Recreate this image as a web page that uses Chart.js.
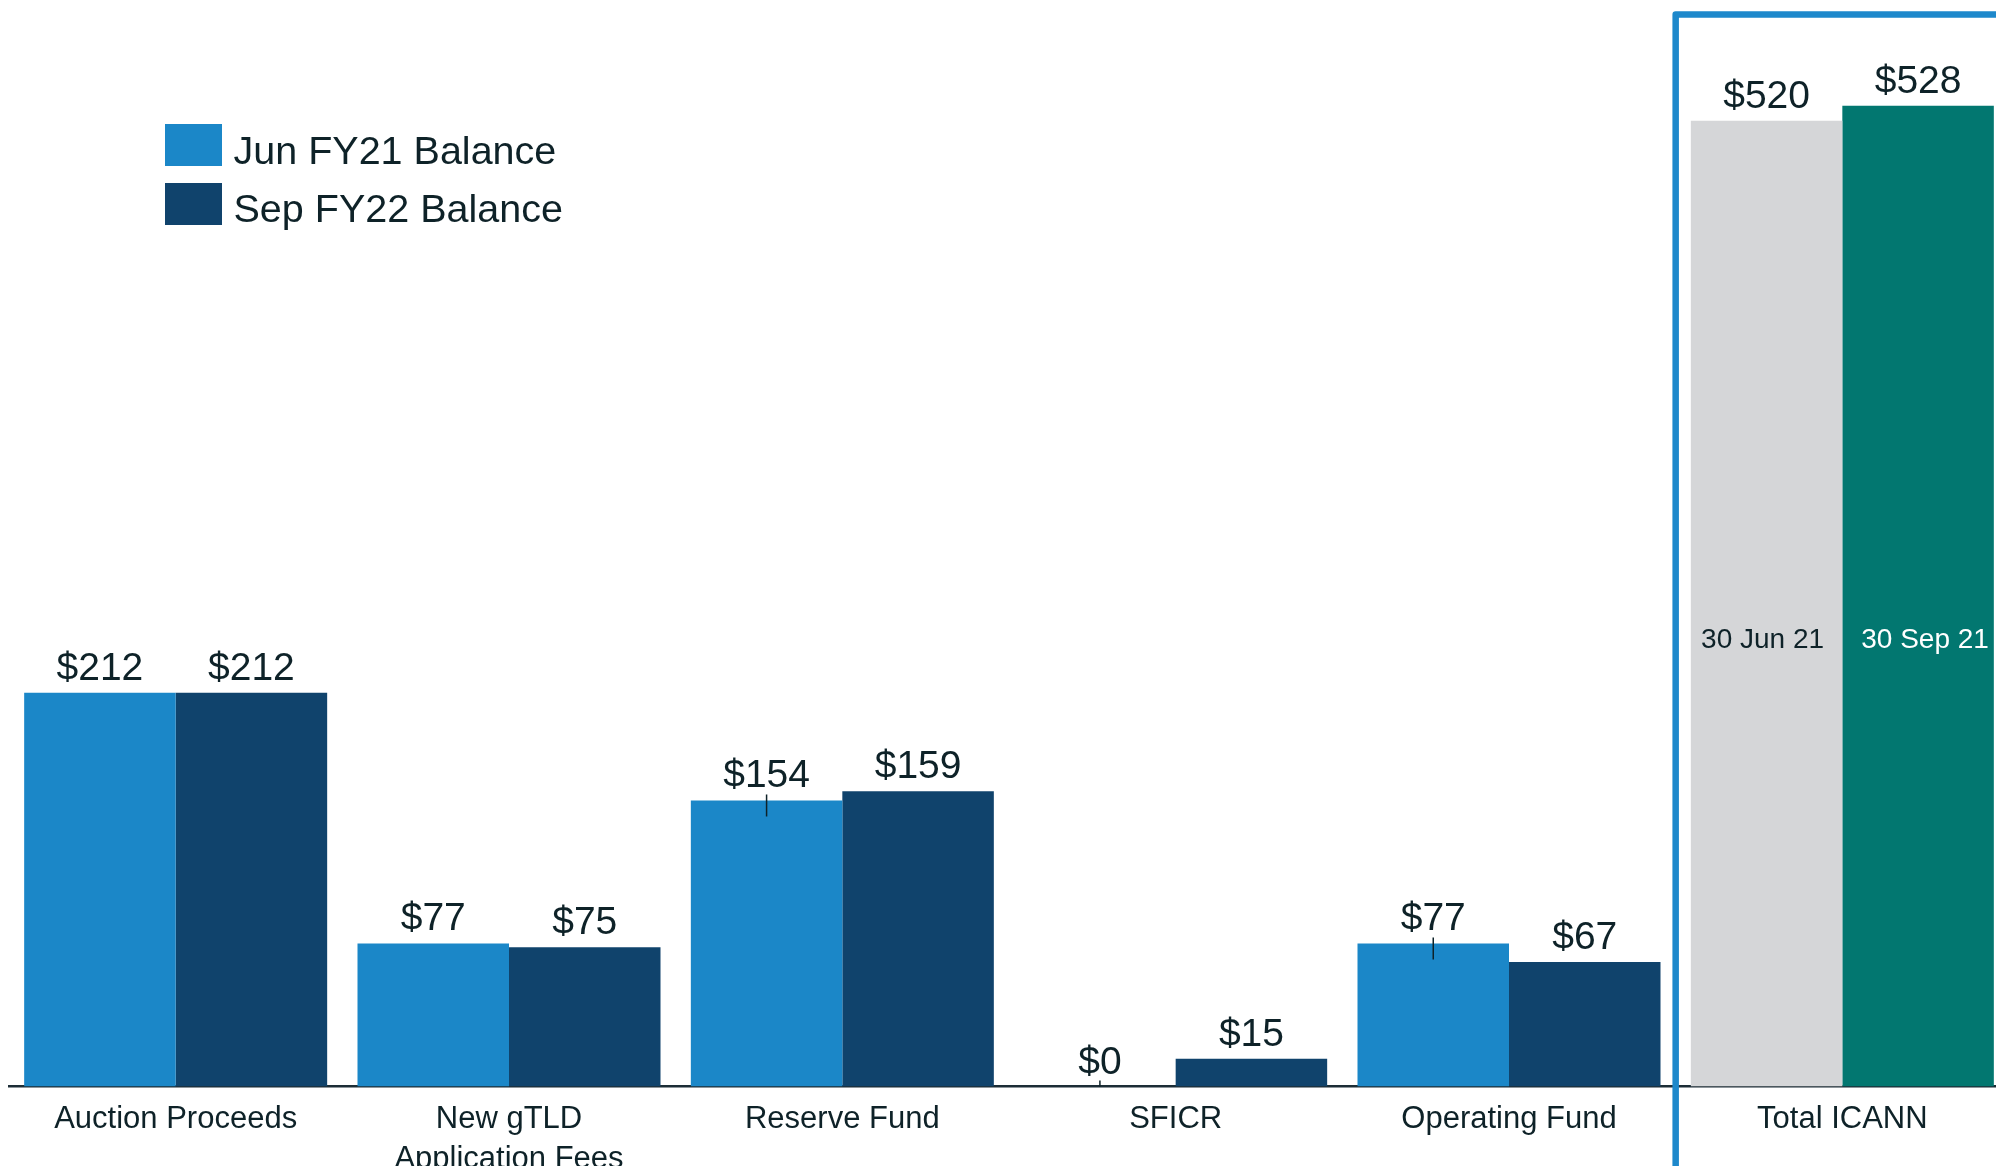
<!DOCTYPE html>
<html>
<head>
<meta charset="utf-8">
<script src="https://cdn.jsdelivr.net/npm/chart.js@4.4.1/dist/chart.umd.min.js"></script>
<style>
  html, body { margin: 0; padding: 0; background: #ffffff; overflow: hidden; }
  #wrap { position: relative; width: 2010px; height: 1166px; }
  canvas { display: block; }
</style>
</head>
<body>
<div id="wrap"><canvas id="c" width="2010" height="1166"></canvas></div>
<script>
// ---- data ----
const categories = ['Auction Proceeds', ['New gTLD', 'Application Fees'], 'Reserve Fund', 'SFICR', 'Operating Fund', 'Total ICANN'];
const seriesLabels = ['Jun FY21 Balance', 'Sep FY22 Balance'];
const junValues = [212, 77, 154, 0, 77, 520];
const sepValues = [212, 75, 159, 15, 67, 528];
const totalDateLabels = ['30 Jun 21', '30 Sep 21'];
const leaderIndexes = [2, 3, 4]; // Jun bars whose value labels have a small leader tick

// ---- style ----
const FONT = '"Liberation Sans", Arial, sans-serif';
const TEXT = '#0e2228';
const JUN = '#1b87c8';
const SEP = '#10436c';
const TOTAL_JUN = '#d5d6d8';
const TOTAL_SEP = '#027770';
const BOX = '#1d88cb';

const lastIdx = categories.length - 1;
const junColors = junValues.map((v, i) => i === lastIdx ? TOTAL_JUN : JUN);
const sepColors = sepValues.map((v, i) => i === lastIdx ? TOTAL_SEP : SEP);

const decorPlugin = {
  id: 'decor',
  afterDatasetsDraw(chart) {
    const ctx = chart.ctx;
    ctx.save();
    // value labels
    ctx.font = '39px ' + FONT;
    ctx.fillStyle = TEXT;
    ctx.textAlign = 'center';
    ctx.textBaseline = 'alphabetic';
    chart.data.datasets.forEach((ds, di) => {
      const meta = chart.getDatasetMeta(di);
      meta.data.forEach((el, i) => {
        ctx.fillText('$' + ds.data[i], el.x, el.y - 13);
      });
    });
    // leader ticks
    const m0 = chart.getDatasetMeta(0);
    ctx.strokeStyle = TEXT;
    ctx.lineWidth = 1.5;
    leaderIndexes.forEach(i => {
      const el = m0.data[i];
      const below = chart.data.datasets[0].data[i] > 0 ? 16 : 0;
      ctx.beginPath();
      ctx.moveTo(el.x, el.y - 6);
      ctx.lineTo(el.x, el.y + below);
      ctx.stroke();
    });
    // date labels inside total bars
    ctx.font = '28px ' + FONT;
    ctx.textBaseline = 'middle';
    const offs = [-4, 7];
    const cols = [TEXT, '#ffffff'];
    chart.data.datasets.forEach((ds, di) => {
      const el = chart.getDatasetMeta(di).data[lastIdx];
      ctx.fillStyle = cols[di];
      ctx.fillText(totalDateLabels[di], el.x + offs[di], 640);
    });
    ctx.restore();
  },
  afterDraw(chart) {
    const ctx = chart.ctx;
    const xs = chart.scales.x;
    ctx.save();
    // highlight box around the Total category
    const bx = (xs.getPixelForValue(lastIdx - 1) + xs.getPixelForValue(lastIdx)) / 2;
    ctx.strokeStyle = BOX;
    ctx.lineWidth = 6.5;
    ctx.lineJoin = 'round';
    ctx.beginPath();
    ctx.moveTo(bx, chart.height + 10);
    ctx.lineTo(bx, 14.5);
    ctx.lineTo(chart.width + 20, 14.5);
    ctx.stroke();
    // legend
    ctx.font = '39.5px ' + FONT;
    ctx.textAlign = 'left';
    ctx.textBaseline = 'alphabetic';
    const legendCols = [JUN, SEP];
    const boxTops = [124, 183];
    const baselines = [163.5, 221.5];
    seriesLabels.forEach((lab, i) => {
      ctx.fillStyle = legendCols[i];
      ctx.fillRect(165, boxTops[i], 57, 42);
      ctx.fillStyle = TEXT;
      ctx.fillText(lab, 233.5, baselines[i]);
    });
    ctx.restore();
  }
};

new Chart(document.getElementById('c'), {
  type: 'bar',
  data: {
    labels: categories,
    datasets: [
      { label: seriesLabels[0], data: junValues, backgroundColor: junColors, borderWidth: 0 },
      { label: seriesLabels[1], data: sepValues, backgroundColor: sepColors, borderWidth: 0 }
    ]
  },
  options: {
    responsive: false,
    animation: false,
    events: [],
    layout: { padding: { left: 9, right: 1, top: 0, bottom: 0 } },
    datasets: { bar: { barPercentage: 1.0, categoryPercentage: 0.909 } },
    plugins: { legend: { display: false }, tooltip: { enabled: false } },
    scales: {
      y: { display: false, min: 0, max: 585 },
      x: {
        grid: { display: false, drawTicks: false },
        border: { display: true, color: '#1c2d36', width: 2.5 },
        ticks: {
          color: TEXT,
          padding: 12.5,
          maxRotation: 0,
          autoSkip: false,
          font: { family: FONT, size: 31, lineHeight: 1.3 }
        },
        afterFit(scale) { scale.height = 79.5; }
      }
    }
  },
  plugins: [decorPlugin]
});
</script>
</body>
</html>
